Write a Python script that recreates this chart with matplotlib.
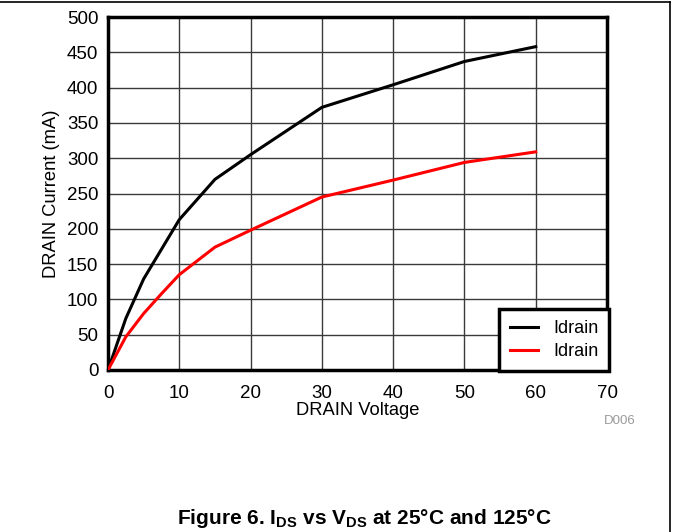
import matplotlib
matplotlib.use("Agg")
import matplotlib.pyplot as plt
from matplotlib.lines import Line2D

plt.rcParams['font.family'] = ['Liberation Sans', 'DejaVu Sans']
plt.rcParams['mathtext.fontset'] = 'custom'
plt.rcParams['mathtext.rm'] = 'Liberation Sans:bold'
plt.rcParams['mathtext.bf'] = 'Liberation Sans:bold'

# Data
vds_25 = [0, 2.5, 5, 10, 15, 20, 30, 40, 50, 60]
ids_25 = [0, 73, 129, 213, 270, 305, 372, 404, 437, 458]
vds_125 = [0, 2.5, 5, 7.5, 10, 15, 20, 30, 40, 50, 60]
ids_125 = [0, 47, 80, 108, 135, 174, 198, 245, 269, 294, 309]
series_labels = ["Idrain", "Idrain"]
x_ticks = [0, 10, 20, 30, 40, 50, 60, 70]
y_ticks = [0, 50, 100, 150, 200, 250, 300, 350, 400, 450, 500]

fig = plt.figure(figsize=(6.73, 5.32), dpi=100)
ax = fig.add_axes([108/673, 1-370/532, (607-108)/673, (370-17)/532])

ax.plot(vds_25, ids_25, color='black', lw=2.2, label=series_labels[0], zorder=3)
ax.plot(vds_125, ids_125, color='#ff0000', lw=2.2, label=series_labels[1], zorder=3)

ax.set_xlim(0, 70)
ax.set_ylim(0, 500)
ax.set_xticks(x_ticks)
ax.set_yticks(y_ticks)
ax.grid(True, color='#3a3a3a', lw=1.0)
ax.set_axisbelow(True)
ax.tick_params(axis='x', length=0, labelsize=13.5, pad=11)
ax.tick_params(axis='y', length=0, labelsize=13.5, pad=7)
for s in ax.spines.values():
    s.set_linewidth(2.5)
    s.set_color('black')

ax.set_xlabel("DRAIN Voltage", fontsize=13.2, labelpad=0)
ax.set_ylabel("DRAIN Current (mA)", fontsize=13.2, labelpad=5)

leg = ax.legend(loc='lower right', bbox_to_anchor=(1.004, -0.003), borderaxespad=0,
                fancybox=False, edgecolor='black', framealpha=1, fontsize=13,
                handlelength=1.6, handletextpad=0.8, labelspacing=0.35,
                borderpad=0.6)
leg.get_frame().set_linewidth(2.5)
leg.set_zorder(5)

fig.text(620/673, 1-421/532, "D006", fontsize=9.5, color='#9a9a9a', ha='center', va='center')

fig.text(364/673, 1-519/532,
         r"Figure 6. I$_{\mathrm{DS}}$ vs V$_{\mathrm{DS}}$ at 25°C and 125°C",
         fontsize=15, fontweight='bold', ha='center', va='center')

# page frame lines
fig.add_artist(Line2D([0, 670/673], [1-1.5/532, 1-1.5/532], transform=fig.transFigure, color='black', lw=1.2))
fig.add_artist(Line2D([670/673, 670/673], [0, 1-1.5/532], transform=fig.transFigure, color='black', lw=1.2))

fig.savefig("out.png", dpi=100)
